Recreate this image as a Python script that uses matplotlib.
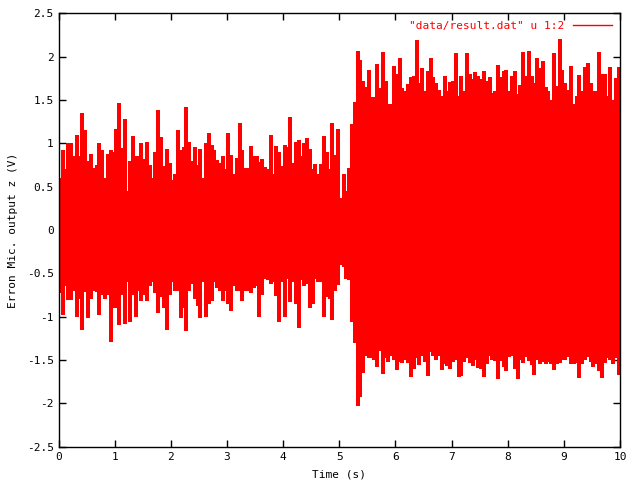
import numpy as np
import matplotlib
matplotlib.use("Agg")
import matplotlib.pyplot as plt
from matplotlib.ticker import FuncFormatter, MultipleLocator

# peak values of the signal in each 0.05 s slice
step = 0.05
upper = [0.6, 0.92, 0.7, 1.0, 1.0, 0.85, 1.1, 0.85, 1.35, 1.15, 0.8, 0.88, 0.72, 0.75, 1.0, 0.92, 0.6,
         0.88, 0.92, 0.9, 1.16, 1.46, 0.95, 1.28, 0.45, 0.8, 1.08, 0.85, 0.85, 1.0, 0.82, 1.02, 0.75, 0.6,
         0.9, 1.38, 1.07, 0.74, 0.93, 0.77, 0.58, 0.65, 1.15, 0.92, 0.96, 1.42, 1.02, 0.8, 0.96, 0.75, 0.94,
         0.6, 1.0, 1.12, 0.98, 0.92, 0.81, 0.77, 0.85, 0.7, 1.12, 0.86, 0.65, 0.83, 1.23, 0.92, 0.72, 0.72,
         0.97, 0.85, 0.85, 0.78, 0.82, 0.73, 0.7, 1.1, 0.65, 0.97, 0.9, 0.74, 0.98, 0.96, 1.3, 0.77, 1.02,
         1.04, 0.85, 1.0, 1.06, 0.94, 0.7, 0.76, 0.65, 0.76, 1.08, 0.9, 0.7, 1.23, 0.87, 1.17, 0.37, 0.65,
         0.45, 0.71, 1.22, 1.48, 2.07, 1.96, 1.72, 1.65, 1.85, 1.54, 1.53, 1.92, 1.64, 2.05, 1.72, 1.45, 1.4,
         1.89, 1.8, 1.98, 1.64, 1.6, 1.68, 1.76, 1.78, 2.19, 1.7, 1.87, 1.6, 1.84, 1.98, 1.76, 1.7, 1.62,
         1.55, 1.78, 1.6, 1.71, 1.72, 2.04, 1.55, 1.78, 1.6, 2.04, 1.8, 1.74, 1.82, 1.78, 1.74, 1.84, 1.72,
         1.77, 1.58, 1.6, 1.9, 1.76, 1.83, 1.85, 1.6, 1.78, 1.83, 1.57, 1.67, 2.05, 1.78, 2.06, 1.78,
         1.7, 1.98, 1.87, 1.95, 1.65, 1.6, 1.5, 2.04, 1.66, 2.2, 1.85, 1.7, 1.62, 1.89, 1.4, 1.55, 1.79,
         1.6, 1.88, 1.93, 1.7, 1.6, 1.6, 2.05, 1.8, 1.8, 1.55, 1.88, 1.5, 1.75, 1.88]
lower = [-0.73, -0.98, -0.65, -0.81, -0.81, -0.7, -1.0, -0.8, -1.15, -0.72, -1.02, -0.8, -0.7, -0.72, -0.98,
         -0.75, -0.8, -0.75, -1.29, -0.9, -0.9, -1.1, -0.75, -1.08, -0.6, -1.06, -0.75, -1.0, -0.7, -0.82,
         -0.75, -0.82, -0.65, -0.6,
         -0.73, -0.96, -0.77, -0.9, -1.15, -0.75, -0.6, -0.7, -0.7, -1.02, -0.9, -1.17, -0.7, -0.62, -0.8,
         -0.88, -1.02, -0.6, -1.0, -0.85, -0.82, -0.6, -0.67, -0.7, -0.82, -0.7, -0.85, -0.94, -0.65, -0.7,
         -0.7, -0.82, -0.7, -0.7,
         -0.73, -0.67, -0.65, -1.0, -0.75, -0.55, -0.58, -0.62, -0.6, -0.76, -1.06, -0.6, -1.0, -0.55, -0.83,
         -0.6, -0.85, -1.13, -0.58, -0.65, -0.62, -0.9, -0.85, -0.56, -0.6, -0.6, -1.0, -0.77, -0.8, -1.04,
         -0.7, -0.63, -0.4, -0.43,
         -0.56, -0.58, -1.06, -1.3, -2.03, -1.93, -1.65, -1.45, -1.48, -1.48, -1.5, -1.58, -1.4, -1.66, -1.48,
         -1.52, -1.45, -1.5, -1.62, -1.52, -1.54, -1.5, -1.54, -1.7, -1.6, -1.48, -1.56, -1.45, -1.52, -1.68,
         -1.41, -1.45, -1.5, -1.45,
         -1.62, -1.55, -1.57, -1.6, -1.52, -1.5, -1.7, -1.68, -1.52, -1.48, -1.54, -1.57, -1.5, -1.59, -1.6,
         -1.7, -1.55, -1.45, -1.5, -1.51, -1.72, -1.51, -1.58, -1.63, -1.46, -1.45, -1.6, -1.72, -1.5, -1.54,
         -1.47, -1.51, -1.56,
         -1.67, -1.5, -1.55, -1.52, -1.55, -1.52, -1.55, -1.62, -1.55, -1.53, -1.5, -1.5, -1.47, -1.55, -1.55,
         -1.53, -1.71, -1.55, -1.5, -1.47, -1.52, -1.58, -1.55, -1.63, -1.71, -1.53, -1.48, -1.5, -1.55,
         -1.48, -1.67]

# solid core of the trace (levels that hold from each time onwards)
core_t = [0, 1.2, 1.3, 5.0, 5.1, 5.2, 5.25, 5.3, 5.35, 5.4, 10]
core_up = [0.58, 0.42, 0.58, 0.32, 0.45, 0.7, 1.1, 1.3, 1.45, 1.45, 1.45]
core_lo = [-0.57, -0.57, -0.57, -0.38, -0.5, -0.85, -1.1, -1.6, -1.85, -1.36, -1.36]

label = '"data/result.dat" u 1:2'
font = "DejaVu Sans Mono"
red = "#ff0000"

tc = np.arange(len(upper)) * step + step / 2

fig = plt.figure(figsize=(6.4, 4.8), dpi=100)
ax = fig.add_axes([0.0916, 0.0694, 0.8772, 0.9029])

ax.fill_between(core_t, core_lo, core_up, step="post", color=red, lw=0, antialiased=False)
ax.vlines(tc, lower, upper, color=red, lw=1.5, antialiased=False)
ax.plot([], [], color=red, lw=1, label=label)

ax.set_xlim(0, 10)
ax.set_ylim(-2.5, 2.5)
ax.xaxis.set_major_locator(MultipleLocator(1))
ax.yaxis.set_major_locator(MultipleLocator(0.5))
ax.yaxis.set_major_formatter(FuncFormatter(lambda v, p: "%g" % v))
ax.tick_params(direction="in", length=5, width=1, top=True, right=True, labelsize=8)
for lab in ax.get_xticklabels() + ax.get_yticklabels():
    lab.set_fontfamily(font)
for s in ax.spines.values():
    s.set_linewidth(1)

ax.set_xlabel("Time (s)", fontsize=8, fontfamily=font, labelpad=6)
ax.set_ylabel("Erron Mic. output z (V)", fontsize=8, fontfamily=font, labelpad=6)

leg = ax.legend(loc="upper right", frameon=False, markerfirst=False, handlelength=3.5,
                prop={"family": font, "size": 8}, labelcolor=red,
                borderaxespad=0.3, handletextpad=0.8)

fig.savefig("out.png", dpi=100)
